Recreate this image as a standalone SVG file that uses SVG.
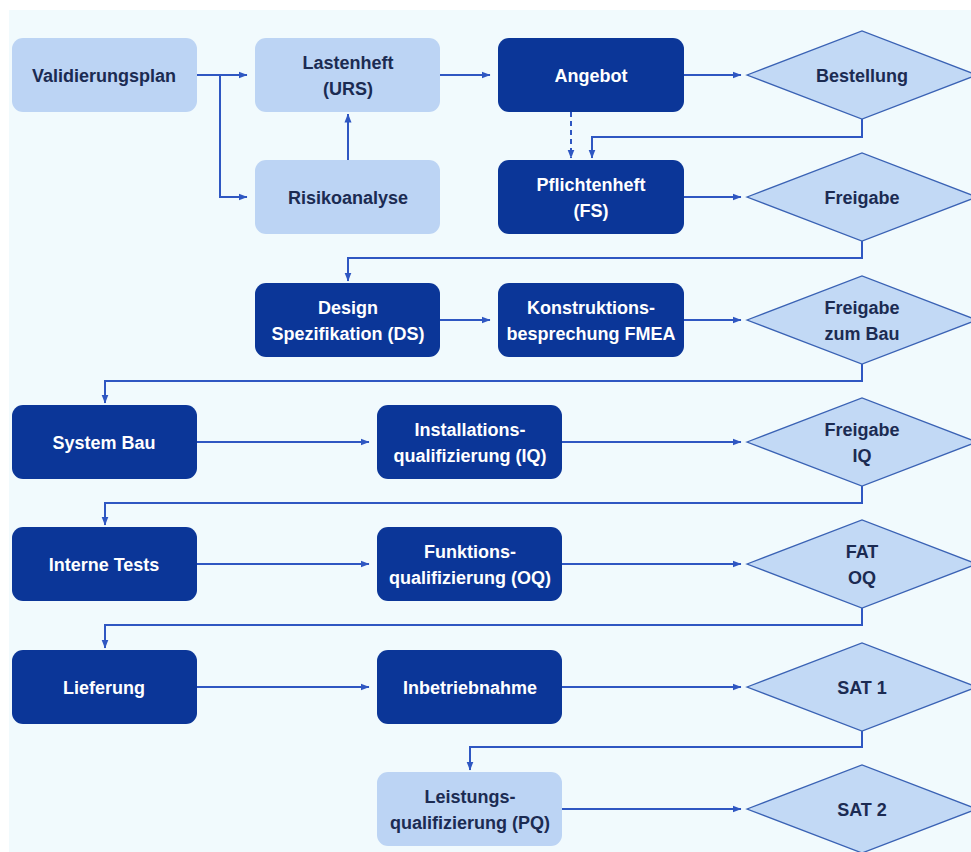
<svg xmlns="http://www.w3.org/2000/svg" width="971" height="852" viewBox="0 0 971 852">
<defs>
<marker id="ah" markerWidth="9" markerHeight="8" refX="8.5" refY="4" orient="auto" markerUnits="userSpaceOnUse">
<path d="M0,0.5 L9,4 L0,7.5 z" fill="#2f57c2"/>
</marker>
<style>
.light{fill:#bcd4f4;}
.dark{fill:#0b3698;}
.dia{fill:#c2d9f5;stroke:#3a62b4;stroke-width:1.3;}
.t{font-family:"Liberation Sans",Arial,sans-serif;font-weight:bold;font-size:18px;text-anchor:middle;}
.tl{fill:#1b2b52;}
.td{fill:#ffffff;}
.c{fill:none;stroke:#2f57c2;stroke-width:2;marker-end:url(#ah);}
.dash{stroke-dasharray:5 4;}
</style>
</defs>
<rect x="0" y="0" width="971" height="852" fill="#ffffff"/>
<rect x="9" y="10" width="962" height="842" fill="#f1fafd"/>

<g id="connectors">
<path class="c" d="M196 75 H247"/>
<path class="c" d="M220 75 V197 H247"/>
<path class="c" d="M348 160 V114"/>
<path class="c" d="M440 75 H490"/>
<path class="c" d="M684 75 H741"/>
<path class="c dash" d="M571 112 V158"/>
<path class="c" d="M862 119 V137 H592 V158"/>
<path class="c" d="M684 197 H741"/>
<path class="c" d="M862 241 V258 H348 V281"/>
<path class="c" d="M440 320 H490"/>
<path class="c" d="M684 320 H741"/>
<path class="c" d="M862 364 V381 H105 V403"/>
<path class="c" d="M196 442 H369"/>
<path class="c" d="M562 442 H741"/>
<path class="c" d="M862 486 V503 H105 V525"/>
<path class="c" d="M196 564 H369"/>
<path class="c" d="M562 564 H741"/>
<path class="c" d="M862 608 V625 H105 V648"/>
<path class="c" d="M196 687 H369"/>
<path class="c" d="M562 687 H741"/>
<path class="c" d="M862 731 V747 H470 V770"/>
<path class="c" d="M562 809 H741"/>
</g>

<g id="validierungsplan"><rect class="light" x="12" y="38" width="185" height="74" rx="11"/><text class="t tl" x="104" y="81.5">Validierungsplan</text></g>
<g id="lastenheft"><rect class="light" x="255" y="38" width="185" height="74" rx="11"/><text class="t tl" x="348" y="68.5">Lastenheft</text><text class="t tl" x="348" y="94.5">(URS)</text></g>
<g id="risikoanalyse"><rect class="light" x="255" y="160" width="185" height="74" rx="11"/><text class="t tl" x="348" y="203.5">Risikoanalyse</text></g>
<g id="angebot"><rect class="dark" x="498" y="38" width="186" height="74" rx="11"/><text class="t td" x="591" y="81.5">Angebot</text></g>
<g id="pflichtenheft"><rect class="dark" x="498" y="160" width="186" height="74" rx="11"/><text class="t td" x="591" y="190.5">Pflichtenheft</text><text class="t td" x="591" y="216.5">(FS)</text></g>
<g id="bestellung"><polygon class="dia" points="747,75 862,31 977,75 862,119"/><text class="t tl" x="862" y="81.5">Bestellung</text></g>
<g id="freigabe"><polygon class="dia" points="747,197 862,153 977,197 862,241"/><text class="t tl" x="862" y="203.5">Freigabe</text></g>

<g id="design"><rect class="dark" x="255" y="283" width="185" height="74" rx="11"/><text class="t td" x="348" y="313.5">Design</text><text class="t td" x="348" y="339.5">Spezifikation (DS)</text></g>
<g id="konstruktion"><rect class="dark" x="498" y="283" width="186" height="74" rx="11"/><text class="t td" x="591" y="313.5">Konstruktions-</text><text class="t td" x="591" y="339.5">besprechung FMEA</text></g>
<g id="freigabe-bau"><polygon class="dia" points="747,320 862,276 977,320 862,364"/><text class="t tl" x="862" y="313.5">Freigabe</text><text class="t tl" x="862" y="339.5">zum Bau</text></g>

<g id="system-bau"><rect class="dark" x="12" y="405" width="185" height="74" rx="11"/><text class="t td" x="104" y="448.5">System Bau</text></g>
<g id="iq"><rect class="dark" x="377" y="405" width="185" height="74" rx="11"/><text class="t td" x="470" y="435.5">Installations-</text><text class="t td" x="470" y="461.5">qualifizierung (IQ)</text></g>
<g id="freigabe-iq"><polygon class="dia" points="747,442 862,398 977,442 862,486"/><text class="t tl" x="862" y="435.5">Freigabe</text><text class="t tl" x="862" y="461.5">IQ</text></g>

<g id="interne-tests"><rect class="dark" x="12" y="527" width="185" height="74" rx="11"/><text class="t td" x="104" y="570.5">Interne Tests</text></g>
<g id="oq"><rect class="dark" x="377" y="527" width="185" height="74" rx="11"/><text class="t td" x="470" y="557.5">Funktions-</text><text class="t td" x="470" y="583.5">qualifizierung (OQ)</text></g>
<g id="fat-oq"><polygon class="dia" points="747,564 862,520 977,564 862,608"/><text class="t tl" x="862" y="557.5">FAT</text><text class="t tl" x="862" y="583.5">OQ</text></g>

<g id="lieferung"><rect class="dark" x="12" y="650" width="185" height="74" rx="11"/><text class="t td" x="104" y="693.5">Lieferung</text></g>
<g id="inbetriebnahme"><rect class="dark" x="377" y="650" width="185" height="74" rx="11"/><text class="t td" x="470" y="693.5">Inbetriebnahme</text></g>
<g id="sat1"><polygon class="dia" points="747,687 862,643 977,687 862,731"/><text class="t tl" x="862" y="693.5">SAT 1</text></g>

<g id="pq"><rect class="light" x="377" y="772" width="185" height="74" rx="11"/><text class="t tl" x="470" y="802.5">Leistungs-</text><text class="t tl" x="470" y="828.5">qualifizierung (PQ)</text></g>
<g id="sat2"><polygon class="dia" points="747,809 862,765 977,809 862,853"/><text class="t tl" x="862" y="815.5">SAT 2</text></g>
</svg>
